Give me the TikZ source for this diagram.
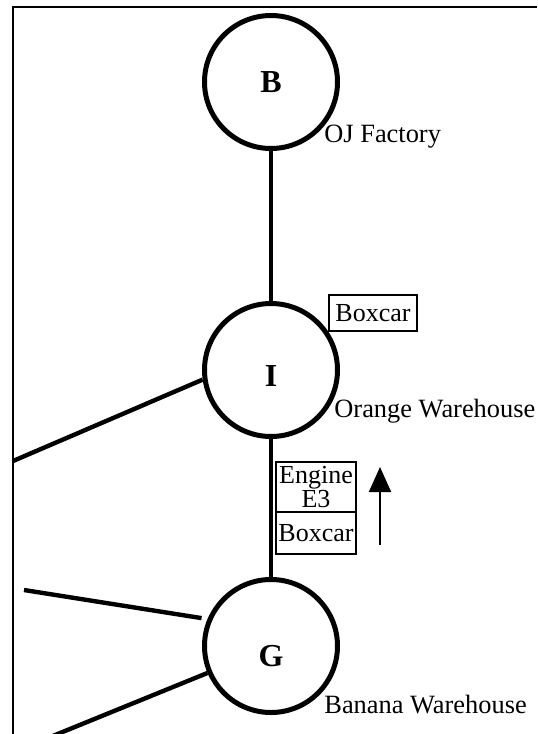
\documentclass[tikz,border=0pt]{standalone}
\usepackage{fontspec}
\setmainfont{Liberation Serif}
\usetikzlibrary{arrows.meta}
\tikzset{
  stop/.style={circle, draw, line width=2.5pt, minimum size=66.5pt, inner sep=0pt,
               font=\fontsize{16}{18}\selectfont\bfseries},
  place/.style={anchor=west, inner sep=0pt, font=\fontsize{13.2}{15}\selectfont},
  car/.style={draw, line width=0.8pt, inner sep=0pt, align=center,
              font=\fontsize{13}{11}\selectfont},
  track/.style={line width=1.6pt},
  spur/.style={line width=2.2pt},
  frame/.style={line width=1pt}
}

\begin{document}
\begin{tikzpicture}[x=0.5pt,y=-0.5pt]
\useasboundingbox (0,0) rectangle (537,734);

% -- outer frame --------------------------------------------------------------
\coordinate (fTR) at (537,7);
\coordinate (fTL) at (13,7);
\coordinate (fBL) at (13,734);
\draw[frame] (fTR) -- (fTL) -- (fBL);

% -- stations -------------------------------------------------------------------
\node[stop] (B) at (271,82)  {B};
\node[stop, text height=16pt] (I) at (271,370) {I};
\node[stop, text height=21pt] (G) at (271,646) {G};

\node[place] (Bname) at (324,137) {OJ Factory};
\node[place] (Iname) at (334,411) {Orange Warehouse};
\node[place] (Gname) at (324,705) {Banana Warehouse};

% -- tracks ---------------------------------------------------------------------
\draw[track] (B) -- (I);
\draw[track] (I) -- (G);

\coordinate (w1) at (13,461);
\coordinate (w2) at (24,590);
\coordinate (w3) at (38,742);
\draw[spur] (I.188) -- (w1);
\draw[spur, shorten <=3pt] (G.157) -- (w2);
\draw[spur] (G.203) -- (w3);

% -- cars -----------------------------------------------------------------------
\node[car, minimum width=44pt, minimum height=18pt] (box1) at (373,313) {Boxcar};
\node[car, minimum width=40pt, minimum height=25pt] (eng) at (316,487) {Engine\\E3};
\node[car, minimum width=40pt, minimum height=21pt] (box2) at (316,533) {Boxcar};

% direction of travel
\coordinate (d1) at (380,545);
\coordinate (d2) at (380,467);
\draw[line width=1pt, -{Triangle[length=12.5pt,width=11pt]}] (d1) -- (d2);

\end{tikzpicture}
\end{document}
